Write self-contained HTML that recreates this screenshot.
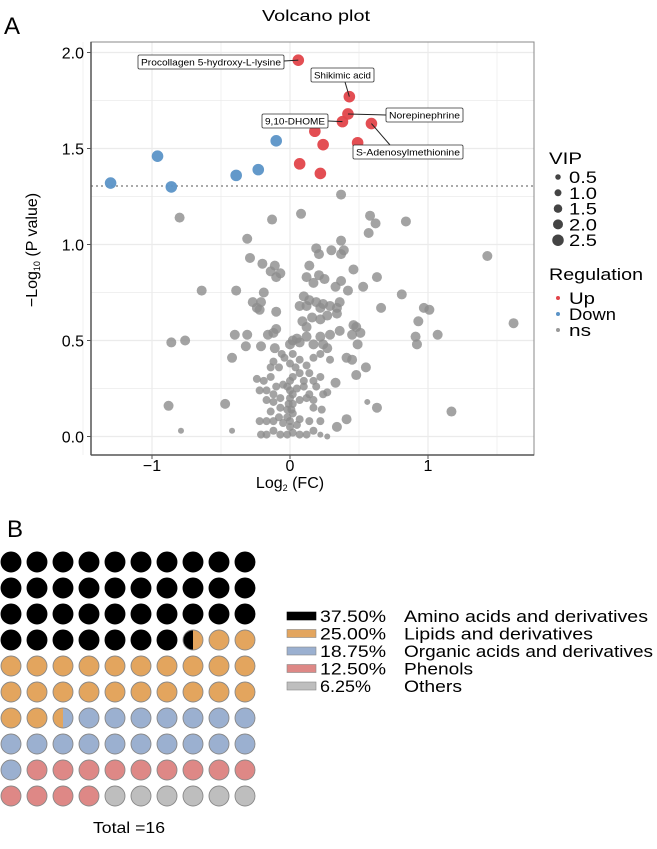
<!DOCTYPE html>
<html><head><meta charset="utf-8"><style>
body{margin:0;background:#fff;width:657px;height:844px;overflow:hidden;font-family:"Liberation Sans",sans-serif}
svg text{font-family:"Liberation Sans",sans-serif}
.lbl{font-family:"Liberation Sans Narrow","Liberation Sans",sans-serif;font-size:9.5px}
</style></head><body>
<svg id="s" width="657" height="844" xmlns="http://www.w3.org/2000/svg">
<text x="4" y="34" font-size="24">A</text>
<text x="262" y="21" font-size="16" textLength="108" lengthAdjust="spacingAndGlyphs">Volcano plot</text>
<g id="grid"></g>
<line x1="91" y1="186" x2="534" y2="186" stroke="#aaa" stroke-width="2" stroke-dasharray="2,3"/>
<g id="pts"></g>
<g id="labels"></g>
<rect x="91" y="42" width="443" height="413" fill="none" stroke="#888" stroke-width="1"/>
<line x1="91" y1="42" x2="91" y2="455" stroke="#555" stroke-width="1.5"/>
<line x1="91" y1="455" x2="534" y2="455" stroke="#555" stroke-width="1.5"/>
<g id="ticks"></g>
<text transform="translate(37,250) rotate(-90)" font-size="16" text-anchor="middle">−Log<tspan font-size="9" dy="3">10</tspan><tspan dy="-3"> (P value)</tspan></text>
<text x="290" y="488" font-size="16" text-anchor="middle">Log<tspan font-size="9" dy="3">2</tspan><tspan dy="-3"> (FC)</tspan></text>
<g id="legA"></g>
<text x="7" y="537" font-size="24">B</text>
<g id="waffle"></g>
<text x="93" y="833" font-size="16" textLength="72" lengthAdjust="spacingAndGlyphs">Total =16</text>
<g id="legB"></g>
</svg>
<script>
const NS="http://www.w3.org/2000/svg";
const upFC=[0.06,0.43,0.42,0.38,0.18,0.24,0.59,0.49,0.07,0.22];
const upP=[1.96,1.77,1.68,1.64,1.59,1.52,1.63,1.53,1.42,1.37];
const downFC=[-0.10,-0.96,-1.30,-0.86,-0.39,-0.23];
const downP=[1.54,1.46,1.32,1.30,1.36,1.39];
const nsFC=[0.37,-0.80,-0.13,0.08,0.58,0.62,0.57,0.84,-0.31,-0.29,0.37,0.39,0.30,0.19,0.21,0.37,1.43,-0.20,-0.11,-0.14,-0.07,-0.10,0.14,0.12,0.21,0.25,0.17,0.46,0.63,0.37,0.33,0.42,0.53,-0.64,-0.39,-0.19,-0.27,-0.21,-0.24,-0.22,0.81,0.66,0.97,1.01,1.62,0.93,1.07,0.91,0.92,0.10,0.14,0.19,0.24,0.29,0.34,0.07,0.12,0.22,0.27,0.34,0.36,-0.10,0.09,0.16,0.22,0.12,0.46,0.48,0.36,0.45,0.51,0.49,-0.40,-0.31,-0.32,-0.21,-0.86,-0.76,-0.42,-0.16,-0.10,-0.12,0.02,0.05,0.00,0.07,0.12,0.17,0.22,0.24,0.27,0.29,0.29,0.41,0.45,0.55,0.48,0.33,-0.47,-0.88,-0.79,-0.42,0.56,0.63,1.17,0.41,0.34,0.22,0.27,-0.11,-0.06,-0.04,-0.12,-0.14,-0.08,0.02,0.07,0.12,0.17,0.22,0.14,0.07,0.02,0.10,0.17,0.22,0.00,-0.24,-0.19,-0.14,-0.22,-0.17,-0.10,-0.05,-0.12,-0.07,0.00,0.05,0.10,0.14,0.19,0.24,0.27,-0.17,-0.12,-0.07,-0.02,0.02,0.07,0.12,0.17,-0.02,0.02,0.00,-0.05,0.05,-0.14,-0.17,-0.12,-0.08,-0.22,-0.21,-0.17,-0.12,-0.07,-0.02,0.02,0.07,0.12,0.17,0.14,0.07,0.22,0.23,0.17,0.00,-0.01,0.01,0.00,0.02,-0.02,0.04,0.00];
const nsP=[1.26,1.14,1.13,1.16,1.15,1.11,1.06,1.12,1.03,0.93,1.02,0.97,0.97,0.98,0.95,0.95,0.94,0.90,0.89,0.86,0.85,0.83,0.89,0.83,0.84,0.82,0.80,0.87,0.83,0.81,0.78,0.76,0.78,0.76,0.76,0.75,0.70,0.70,0.67,0.66,0.74,0.67,0.67,0.66,0.59,0.60,0.53,0.52,0.48,0.73,0.71,0.70,0.69,0.68,0.67,0.68,0.68,0.67,0.63,0.64,0.70,0.65,0.60,0.62,0.61,0.57,0.58,0.57,0.55,0.53,0.54,0.48,0.53,0.53,0.47,0.47,0.49,0.50,0.41,0.53,0.56,0.54,0.50,0.51,0.48,0.49,0.52,0.48,0.52,0.48,0.46,0.53,0.40,0.41,0.40,0.36,0.32,0.28,0.17,0.16,0.03,0.03,0.18,0.15,0.13,0.09,0.05,0.01,0.00,0.46,0.43,0.41,0.39,0.36,0.36,0.43,0.40,0.37,0.41,0.43,0.33,0.33,0.31,0.29,0.29,0.31,0.29,0.30,0.29,0.31,0.24,0.24,0.26,0.27,0.22,0.20,0.24,0.25,0.26,0.22,0.26,0.22,0.23,0.19,0.18,0.15,0.14,0.17,0.19,0.20,0.19,0.10,0.12,0.08,0.07,0.06,0.13,0.08,0.08,0.10,0.08,0.01,0.01,0.03,0.01,0.01,0.02,0.01,0.01,0.03,0.08,0.09,0.08,0.14,0.15,0.20,0.17,0.14,0.05,0.22,0.26,0.36,0.38];
const vipBig=1.9, vipMid=1.5, vipSmall=0.5;
const smallIdx=[100,101,102,107,108];
const xTicks=[-1,0,1], yTicks=[0,0.5,1.0,1.5,2.0];
const yTickLabels=["0.0","0.5","1.0","1.5","2.0"];
const vipLevels=[0.5,1.0,1.5,2.0,2.5];
const wafPct=[37.5,25.0,18.75,12.5,6.25];
const wafNames=["Amino acids and derivatives","Lipids and derivatives","Organic acids and derivatives","Phenols","Others"];
const wafColors=["#000000","#E3A55E","#9BB0D0","#DE8886","#BEBEBE"];
const nameWidths=[244,189,249,69,58];
const pctWidths=[66,66,66,66,51];

const X=v=>290+v*138, Y=v=>436.5-v*192, R=v=>2+v*2;
const g=id=>document.getElementById(id);
function mk(tag,attrs,parent){const e=document.createElementNS(NS,tag);for(const k in attrs)e.setAttribute(k,attrs[k]);parent.appendChild(e);return e;}
for(let v=-1.5;v<=1.51;v+=0.5){const l=mk('line',{x1:X(v),x2:X(v),y1:42,y2:455,stroke:'#ebebeb','stroke-width':Math.abs(v%1)<0.01?1.2:0.7},g('grid'));

}
for(let v=0;v<=2.01;v+=0.25){const l=mk('line',{x1:91,x2:534,y1:Y(v),y2:Y(v),stroke:'#ebebeb','stroke-width':Math.abs(v*2%1)<0.01?1.2:0.7},g('grid'));

}
xTicks.forEach(v=>{mk('line',{x1:X(v),x2:X(v),y1:455,y2:459,stroke:'#555'},g('ticks'));
const t=mk('text',{x:X(v),y:471,'font-size':16,'text-anchor':'middle'},g('ticks'));t.textContent=v<0?'−'+(-v):String(v);

});
yTicks.forEach((v,i)=>{mk('line',{x1:87,x2:91,y1:Y(v),y2:Y(v),stroke:'#555'},g('ticks'));
const t=mk('text',{x:84,y:Y(v)+6,'font-size':16,'text-anchor':'end'},g('ticks'));t.textContent=yTickLabels[i];

});
nsFC.forEach((v,i)=>{let vip=smallIdx.includes(i)?vipSmall:(nsP[i]<0.45&&Math.abs(v)<0.3?1.0:vipMid);
const c=mk('circle',{cx:X(v),cy:Y(nsP[i]),r:R(vip),fill:'#8c8c8c','fill-opacity':0.8},g('pts'));

});
downFC.forEach((v,i)=>{const c=mk('circle',{cx:X(v),cy:Y(downP[i]),r:R(vipBig),fill:'#5B93C7','fill-opacity':0.95},g('pts'));

});
upFC.forEach((v,i)=>{const c=mk('circle',{cx:X(v),cy:Y(upP[i]),r:R(vipBig),fill:'#E2444A','fill-opacity':0.95},g('pts'));

});
const labs=[["Procollagen 5-hydroxy-L-lysine",0,138,55,146,[[284,61]]],["Shikimic acid",1,311,68,63,[[345,82]]],["9,10-DHOME",3,262,114,66,[[328,121]]],["Norepinephrine",2,386,108,77,[[386,115]]],["S-Adenosylmethionine",6,353,145,110,[[390,145]]]];
labs.forEach(L=>{const [txt,pi,x,y,w,pts]=L;
mk('line',{x1:X(upFC[pi]),y1:Y(upP[pi]),x2:pts[0][0],y2:pts[0][1],stroke:'#222','stroke-width':1},g('labels'));
const r=mk('rect',{x:x,y:y,width:w,height:14,fill:'#fff',stroke:'#333','stroke-width':0.8,rx:1.5},g('labels'));


const t=mk('text',{x:x+3,y:y+10.5,textLength:w-6,lengthAdjust:'spacingAndGlyphs',class:'lbl'},g('labels'));t.textContent=txt;

});
let t=mk('text',{x:549,y:164,'font-size':17,textLength:33,lengthAdjust:'spacingAndGlyphs'},g('legA'));t.textContent='VIP';


vipLevels.forEach((v,i)=>{const y=177+i*15.8;
const c=mk('circle',{cx:558,cy:y,r:R(v)*0.75+0.5,fill:'#444'},g('legA'));


const tt=mk('text',{x:569,y:y+6,'font-size':17,textLength:28,lengthAdjust:'spacingAndGlyphs'},g('legA'));tt.textContent=v.toFixed(1);

});
t=mk('text',{x:549,y:280,'font-size':17,textLength:94,lengthAdjust:'spacingAndGlyphs'},g('legA'));t.textContent='Regulation';


[["Up","#E2444A",26],["Down","#5B93C7",47],["ns","#999",22]].forEach((e,i)=>{const y=298+i*16;
const c=mk('circle',{cx:558,cy:y,r:2,fill:e[1]},g('legA'));


const tt=mk('text',{x:569,y:y+6,'font-size':17,textLength:e[2],lengthAdjust:'spacingAndGlyphs'},g('legA'));tt.textContent=e[0];

});
const cum=[];let s=0;wafPct.forEach(p=>{cum.push([s,s+p]);s+=p;});
for(let k=0;k<100;k++){const row=Math.floor(k/10),col=k%10;const cx=11+col*26,cy=562+row*26,r=10;
const parts=[];cum.forEach((c,ci)=>{const a=Math.max(c[0],k),b=Math.min(c[1],k+1);if(b-a>0.3)parts.push([ci,a-k,b-k]);});
const gg=mk('g',{},g('waffle'));


if(parts.length===1){mk('circle',{cx,cy,r,fill:wafColors[parts[0][0]]},gg);}
else{parts.forEach((p,pi)=>{const x0=pi===0?cx-r:cx-r+p[1]*2*r,x1=pi===parts.length-1?cx+r:cx-r+p[2]*2*r;const id='c'+k+'_'+p[0];
const cp=mk('clipPath',{id},gg);mk('rect',{x:x0,y:cy-r,width:x1-x0,height:2*r},cp);
mk('circle',{cx,cy,r,fill:wafColors[p[0]],'clip-path':'url(#'+id+')'},gg);});}
mk('circle',{cx,cy,r,fill:'none',stroke:parts.length===1&&parts[0][0]===0?'#000':'#888','stroke-width':0.9},gg);}
wafPct.forEach((p,i)=>{const y=616+i*17.5;
const r=mk('rect',{x:287,y:y-4,width:29,height:8,fill:wafColors[i],stroke:i===0?'#000':'#888','stroke-width':0.6},g('legB'));


const a=mk('text',{x:320,y:y+6,'font-size':16.5,textLength:pctWidths[i],lengthAdjust:'spacingAndGlyphs'},g('legB'));a.textContent=p.toFixed(2)+'%';


const b=mk('text',{x:404,y:y+6,'font-size':16.5,textLength:nameWidths[i],lengthAdjust:'spacingAndGlyphs'},g('legB'));b.textContent=wafNames[i];

});
</script>
</body></html>
